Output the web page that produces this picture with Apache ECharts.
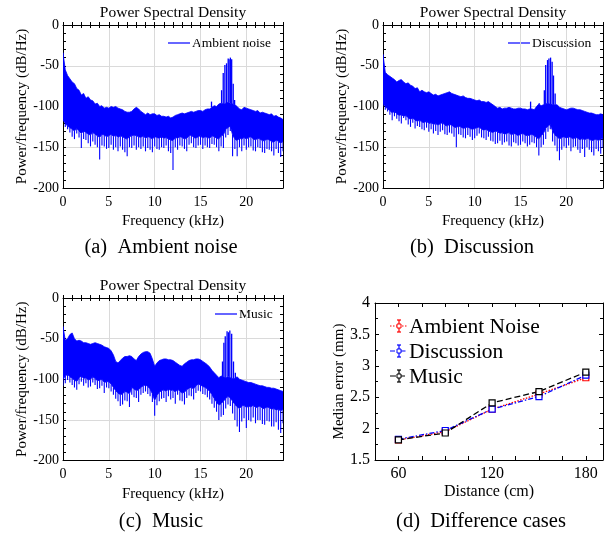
<!DOCTYPE html>
<html>
<head>
<meta charset="utf-8">
<script src="https://cdn.jsdelivr.net/npm/echarts@6/dist/echarts.min.js"></script>
<style>
  html, body { margin: 0; padding: 0; background: #fff; }
  #chart { width: 606px; height: 534px; }
</style>
</head>
<body>
<div id="chart"></div>
<script>
// ---- Power spectral density per 0.25 kHz bin, 0..24 kHz (dB/Hz) ----
// *Hi: top of the broadband trace, *Floor: bottom of the dense part,
// *Lo: deepest dip in the bin, *Peaks: narrow tonal components [kHz, dB/Hz].
const binWidth = 0.25;

const ambientHi = [
  -34, -55, -62, -66,   -70, -72, -78, -80,   -86, -84, -90, -88,
  -92, -93, -97, -96,   -100, -99, -102, -101, -102, -100, -101, -100,
  -102, -103, -104, -106, -107, -107, -106, -103, -101, -103, -106, -108,
  -110, -108, -110, -109, -109, -111, -110, -112, -112, -113, -112, -114,
  -113, -111, -110, -109, -108, -109, -108, -107, -106, -107, -106, -105,
  -105, -106, -104, -103, -103, -101, -99, -100, -97, -96, -97, -96,
  -95, -96, -97, -98,   -100, -103, -104, -101, -102, -103, -104, -105,
  -106, -105, -108, -107, -108, -109, -110, -109, -112, -111, -113, -114,
  -116
];
const ambientFloor = [
  -116, -121, -124, -126, -128, -130, -127, -130, -133, -130, -132, -134,
  -135, -132, -134, -136, -138, -134, -135, -137, -136, -134, -137, -135,
  -138, -136, -137, -139, -140, -137, -136, -135, -136, -137, -138, -136,
  -139, -137, -138, -140, -137, -138, -139, -137, -139, -138, -140, -141,
  -142, -138, -139, -137, -138, -140, -139, -136, -135, -138, -139, -137,
  -136, -139, -137, -138, -139, -136, -137, -139, -140, -136, -135, -128,
  -126, -124, -135, -140, -142, -139, -140, -138, -140, -138, -137, -140,
  -141, -139, -140, -142, -142, -140, -141, -143, -144, -141, -143, -145,
  -143
];
const ambientLo = [
  -118, -125, -128, -132, -137, -140, -133, -138, -151, -140, -141, -145,
  -149, -143, -147, -150, -165, -148, -149, -152, -151, -147, -153, -150,
  -155, -149, -153, -156, -161, -150, -151, -148, -153, -150, -152, -149,
  -155, -151, -153, -156, -149, -152, -153, -150, -151, -148, -155, -157,
  -178, -150, -153, -148, -149, -152, -155, -147, -145, -150, -151, -148,
  -147, -152, -148, -150, -151, -146, -147, -150, -155, -149, -151, -138,
  -135, -130, -161, -152, -161, -150, -155, -148, -153, -150, -149, -154,
  -155, -150, -151, -156, -157, -152, -153, -155, -160, -152, -157, -162,
  -155
];
const ambientPeaks = [
  [16.2, -94], [17.3, -80], [17.48, -59], [17.66, -49], [17.84, -47], [18.02, -41],
  [18.12, -42], [18.26, -40], [18.4, -42], [18.57, -72], [18.72, -92]
];

const discussionHi = [
  -36, -58, -61, -63,   -65, -67, -70, -68,   -67, -70, -72, -71,
  -74, -75, -78, -77,   -82, -80, -82, -83,   -82, -84, -86, -85,
  -87, -86, -85, -84,   -83, -82, -84, -85,   -86, -87, -88, -87,
  -89, -90, -90, -91,   -92, -93, -92, -94,   -94, -95, -94, -96,
  -98, -100, -102, -101, -103, -102, -102, -101, -102, -103, -103, -102,
  -102, -103, -103, -104, -103, -103, -104, -100, -97, -99, -98, -97,
  -96, -97, -98, -98,   -98, -101, -102, -103, -104, -103, -102, -102,
  -103, -104, -104, -105, -106, -107, -108, -108, -109, -110, -110, -109,
  -110
];
const discussionFloor = [
  -96, -100, -103, -105, -108, -106, -109, -111, -110, -112, -111, -114,
  -116, -114, -117, -118, -117, -119, -120, -118, -121, -120, -122, -121,
  -123, -121, -120, -123, -124, -122, -123, -125, -126, -124, -125, -127,
  -126, -125, -127, -128, -127, -126, -125, -128, -129, -128, -130, -131,
  -132, -130, -131, -133, -132, -134, -133, -132, -135, -133, -134, -136,
  -134, -133, -135, -136, -135, -134, -136, -138, -140, -136, -133, -127,
  -124, -122, -130, -135, -137, -140, -138, -137, -139, -137, -138, -140,
  -138, -139, -141, -139, -141, -139, -140, -142, -141, -140, -142, -140,
  -139
];
const discussionLo = [
  -100, -104, -106, -110, -117, -112, -115, -118, -121, -114, -117, -122,
  -125, -120, -127, -124, -125, -128, -129, -126, -131, -128, -133, -130,
  -135, -131, -129, -134, -135, -132, -133, -137, -150, -134, -135, -138,
  -139, -135, -137, -141, -139, -136, -133, -138, -139, -141, -137, -142,
  -143, -146, -145, -142, -147, -144, -143, -148, -149, -144, -145, -148,
  -147, -143, -145, -149, -147, -144, -145, -150, -160, -150, -147, -140,
  -131, -128, -143, -148, -155, -166, -153, -149, -151, -148, -155, -150,
  -149, -153, -157, -152, -162, -150, -153, -156, -160, -152, -155, -158,
  -151
];
const discussionPeaks = [
  [16.1, -94], [17.05, -96], [17.6, -80], [17.75, -49], [17.95, -43], [18.1, -41],
  [18.28, -40], [18.45, -45], [18.6, -62], [18.78, -84]
];

const musicHi = [
  -35, -52, -50, -45,   -43, -50, -53, -52,   -53, -55, -55, -56,
  -57, -56, -55, -56,   -57, -58, -60, -61,   -62, -65, -70, -78,
  -80, -77, -74, -72,   -72, -71, -72, -75,   -77, -72, -69, -67,
  -66, -66, -68, -75,   -84, -80, -77, -76,   -75, -75, -76, -76,
  -77, -79, -81, -83,   -84, -81, -79, -77,   -76, -76, -75, -75,
  -76, -78, -80, -82,   -85, -89, -92, -95,   -98, -96, -97, -98,
  -97, -98, -99, -99,   -97, -100, -101, -102, -103, -104, -104, -105,
  -106, -107, -108, -108, -109, -110, -110, -111, -111, -112, -113, -114,
  -115
];
const musicFloor = [
  -100, -96, -94, -97,  -99, -101, -103, -98,  -96, -99, -98, -101,
  -100, -97, -99, -102, -101, -100, -104, -103, -103, -106, -110, -114,
  -117, -119, -118, -115, -116, -118, -110, -112, -114, -113, -110, -108,
  -107, -109, -112, -118, -126, -120, -116, -114, -113, -115, -112, -114,
  -113, -116, -112, -115, -117, -116, -113, -111, -110, -112, -108, -106,
  -107, -109, -110, -112, -115, -119, -124, -128, -132, -130, -127, -124,
  -121, -123, -127, -131, -134, -136, -133, -132, -135, -133, -134, -132,
  -135, -134, -133, -136, -136, -134, -135, -137, -136, -138, -137, -139,
  -137
];
const musicLo = [
  -108, -105, -101, -104, -107, -110, -113, -106, -103, -108, -105, -110,
  -109, -104, -107, -112, -111, -108, -117, -110, -111, -115, -119, -124,
  -127, -133, -131, -126, -127, -134, -119, -122, -123, -128, -119, -117,
  -115, -118, -121, -128, -145, -132, -127, -124, -123, -128, -121, -125,
  -123, -130, -119, -126, -127, -131, -123, -120, -121, -125, -117, -114,
  -115, -118, -119, -122, -125, -130, -135, -140, -150, -146, -144, -136,
  -131, -133, -142, -150, -158, -165, -152, -148, -160, -150, -152, -147,
  -154, -150, -150, -155, -156, -151, -152, -158, -158, -153, -162, -166,
  -154
];
const musicPeaks = [
  [17.4, -78], [17.55, -55], [17.7, -47], [17.9, -41], [18.05, -42], [18.2, -40],
  [18.4, -44], [18.6, -78], [18.8, -92]
];

// ---- Median localisation error versus distance ----
const distances = [60, 90, 120, 150, 180];
const errAmbient = [1.82, 1.95, 2.31, 2.55, 2.81];
const errDiscussion = [1.83, 1.97, 2.31, 2.51, 2.85];
const errMusic = [1.82, 1.93, 2.41, 2.59, 2.90];

const FONT = '"Liberation Serif", "Times New Roman", serif';
const GRID_GRAY = '#dadada';
const TRACE = '#0000ff';

const grids = [
  { left: 63, top: 25, width: 220, height: 163 },
  { left: 383, top: 25, width: 220, height: 163 },
  { left: 63, top: 298, width: 220, height: 162.5 },
  { left: 375, top: 303, width: 229.5, height: 157 }
];

const xAxes = [];
const yAxes = [];

function tickOnly(base, extra) {
  return Object.assign({
    axisLabel: { show: false },
    splitLine: { show: false },
    axisLine: { show: false },
    axisTick: { show: true, inside: true, length: 3, lineStyle: { color: '#000', width: 1 } }
  }, base, extra);
}
const boxLine = { show: true, onZero: false, lineStyle: { color: '#000', width: 1 } };

// Spectrum panels: labelled axes plus fine inside ticks on all four sides
const psdXMain = [];
const psdYMain = [];
for (let g = 0; g < 3; g++) {
  psdXMain.push(xAxes.length);
  xAxes.push({
    gridIndex: g, type: 'value', min: 0, max: 24, interval: 5, position: 'bottom',
    axisLine: boxLine,
    axisTick: { show: false },
    axisLabel: { margin: 7, fontFamily: FONT, fontSize: 14, color: '#000',
      formatter: v => (v % 5 === 0 ? String(v) : '') },
    splitLine: { show: true, lineStyle: { color: GRID_GRAY, width: 1 } },
    name: 'Frequency (kHz)', nameLocation: 'middle', nameGap: 26,
    nameTextStyle: { fontFamily: FONT, fontSize: 15, color: '#000' }
  });
  xAxes.push(tickOnly({ gridIndex: g, type: 'value', min: 0, max: 24, interval: 1, position: 'bottom' }));
  xAxes.push(tickOnly({ gridIndex: g, type: 'value', min: 0, max: 24, interval: 1, position: 'top' },
    { axisLine: boxLine }));

  psdYMain.push(yAxes.length);
  yAxes.push({
    gridIndex: g, type: 'value', min: -200, max: 0, interval: 50, position: 'left',
    axisLine: boxLine,
    axisTick: { show: false },
    axisLabel: { margin: 4, fontFamily: FONT, fontSize: 14, color: '#000' },
    splitLine: { show: true, lineStyle: { color: GRID_GRAY, width: 1 } },
    name: 'Power/frequency (dB/Hz)', nameLocation: 'middle', nameGap: 33,
    nameTextStyle: { fontFamily: FONT, fontSize: 15, color: '#000' }
  });
  yAxes.push(tickOnly({ gridIndex: g, type: 'value', min: -200, max: 0, interval: 10, position: 'left' }));
  yAxes.push(tickOnly({ gridIndex: g, type: 'value', min: -200, max: 0, interval: 10, position: 'right' },
    { axisLine: boxLine }));
}

// Distance panel axes
const errX = xAxes.length;
const errTick = { show: true, inside: true, length: 4, lineStyle: { color: '#000' } };
const errMinor = { show: true, splitNumber: 2, length: 3, lineStyle: { color: '#000' } };
xAxes.push({
  gridIndex: 3, type: 'value', min: 45, max: 191, interval: 15, position: 'bottom',
  axisLine: boxLine, axisTick: errTick,
  axisLabel: { margin: 6, fontFamily: FONT, fontSize: 16, color: '#000',
    formatter: v => (v % 60 === 0 ? String(v) : '') },
  splitLine: { show: false },
  name: 'Distance (cm)', nameLocation: 'middle', nameGap: 24,
  nameTextStyle: { fontFamily: FONT, fontSize: 16, color: '#000' }
});
xAxes.push(tickOnly({ gridIndex: 3, type: 'value', min: 45, max: 191, interval: 15, position: 'top' },
  { axisLine: boxLine, axisTick: errTick }));
const errY = yAxes.length;
yAxes.push({
  gridIndex: 3, type: 'value', min: 1.5, max: 4, interval: 0.5, position: 'left',
  axisLine: boxLine, axisTick: errTick, minorTick: errMinor,
  axisLabel: { margin: 5, fontFamily: FONT, fontSize: 16, color: '#000' },
  splitLine: { show: false },
  name: 'Median error (mm)', nameLocation: 'middle', nameGap: 27,
  nameTextStyle: { fontFamily: FONT, fontSize: 15, color: '#000' }
});
yAxes.push(tickOnly({ gridIndex: 3, type: 'value', min: 1.5, max: 4, interval: 0.5, position: 'right' },
  { axisLine: boxLine, axisTick: errTick, minorTick: errMinor }));

const spectra = [
  { name: 'Ambient noise', hi: ambientHi, floor: ambientFloor, lo: ambientLo, peaks: ambientPeaks },
  { name: 'Discussion', hi: discussionHi, floor: discussionFloor, lo: discussionLo, peaks: discussionPeaks },
  { name: 'Music', hi: musicHi, floor: musicFloor, lo: musicLo, peaks: musicPeaks }
];

const series = [];
spectra.forEach((s, g) => {
  const axes = { xAxisIndex: psdXMain[g], yAxisIndex: psdYMain[g] };
  const bins = s.hi.map((h, i) => [i * binWidth, h, s.floor[i], s.lo[i]]);

  // dense broadband body: polygon between top trace and floor
  series.push(Object.assign({
    name: s.name, type: 'custom', clip: true, silent: true, z: 2,
    data: [[0, s.hi[0]]],
    renderItem: (params, api) => {
      const pts = [];
      bins.forEach(b => pts.push(api.coord([b[0], b[1]])));
      for (let i = bins.length - 1; i >= 0; i--) pts.push(api.coord([bins[i][0], bins[i][2]]));
      return { type: 'polygon', shape: { points: pts },
        style: { fill: TRACE, stroke: TRACE, lineWidth: 0.8 } };
    }
  }, axes));

  // downward dips below the dense body
  series.push(Object.assign({
    name: s.name + ' dips', type: 'custom', clip: true, silent: true, z: 2,
    data: bins,
    encode: { x: 0, y: [2, 3] },
    renderItem: (params, api) => {
      const a = api.coord([api.value(0), api.value(2)]);
      const b = api.coord([api.value(0), api.value(3)]);
      return { type: 'line', shape: { x1: a[0], y1: a[1], x2: b[0], y2: b[1] },
        style: { stroke: TRACE, lineWidth: 1.1 } };
    }
  }, axes));

  // narrow tonal peaks rising out of the trace
  series.push(Object.assign({
    name: s.name + ' peaks', type: 'custom', clip: true, silent: true, z: 2,
    data: s.peaks,
    encode: { x: 0, y: 1 },
    renderItem: (params, api) => {
      const f = api.value(0);
      const base = s.hi[Math.round(f / binWidth)];
      const a = api.coord([f, base]);
      const b = api.coord([f, api.value(1)]);
      return { type: 'line', shape: { x1: a[0], y1: a[1], x2: b[0], y2: b[1] },
        style: { stroke: TRACE, lineWidth: 1.3 } };
    }
  }, axes));
});

const errSeries = [
  { name: 'Ambient Noise', values: errAmbient, color: '#ff0000', dash: [1.5, 1.5] },
  { name: 'Discussion', values: errDiscussion, color: '#0000ff', dash: [5, 2, 1.5, 2] },
  { name: 'Music', values: errMusic, color: '#000000', dash: [6, 3] }
];
errSeries.forEach(s => {
  series.push({
    name: s.name, type: 'line', xAxisIndex: errX, yAxisIndex: errY,
    data: distances.map((d, i) => [d, s.values[i]]),
    symbol: 'rect', symbolSize: 6,
    itemStyle: { color: '#fff', borderColor: s.color, borderWidth: 1.2 },
    lineStyle: { color: s.color, width: 1.3, type: s.dash },
    z: 3
  });
});

function label(x, y, text, size, align) {
  return {
    type: 'text', x: x, y: y, silent: true,
    style: { text: text, fill: '#000', font: size + 'px ' + FONT,
      align: align || 'center', verticalAlign: 'middle' }
  };
}
function seg(x1, y1, x2, y2, color, dash) {
  return { type: 'line', silent: true, shape: { x1: x1, y1: y1, x2: x2, y2: y2 },
    style: { stroke: color, lineWidth: 1.2, lineDash: dash || null } };
}

const graphics = [
  label(173, 13, 'Power Spectral Density', 15.5),
  label(493, 13, 'Power Spectral Density', 15.5),
  label(173, 286, 'Power Spectral Density', 15.5),
  label(161, 248, '(a)\u2002Ambient noise', 20.5),
  label(472, 248, '(b)\u2002Discussion', 20.5),
  label(161, 522, '(c)\u2002Music', 20.5),
  label(481, 522, '(d)\u2002Difference cases', 20.5),
  // spectrum legends
  seg(168, 43, 190, 43, TRACE), label(192, 43.5, 'Ambient noise', 13.5, 'left'),
  seg(508, 43, 530, 43, TRACE), label(532, 43.5, 'Discussion', 13.5, 'left'),
  seg(215, 314, 237, 314, TRACE), label(239, 314.5, 'Music', 13.5, 'left')
];

// Legend for the distance panel: line style, error bar and hollow square marker
const legendRows = [326, 351, 376];
errSeries.forEach((s, i) => {
  const y = legendRows[i];
  graphics.push(seg(390, y, 407, y, s.color, s.dash));
  graphics.push(seg(399, y - 6, 399, y + 6, s.color));
  graphics.push(seg(397, y - 6, 401, y - 6, s.color));
  graphics.push(seg(397, y + 6, 401, y + 6, s.color));
  graphics.push({ type: 'rect', silent: true, shape: { x: 397, y: y - 2, width: 4, height: 4 },
    style: { fill: '#fff', stroke: s.color, lineWidth: 1 } });
  graphics.push(label(409, y + 1, s.name, 21.5, 'left'));
});

const chart = echarts.init(document.getElementById('chart'), null, { renderer: 'canvas' });
chart.setOption({
  animation: false,
  backgroundColor: '#fff',
  grid: grids,
  xAxis: xAxes,
  yAxis: yAxes,
  series: series,
  graphic: graphics
});
</script>
</body>
</html>
